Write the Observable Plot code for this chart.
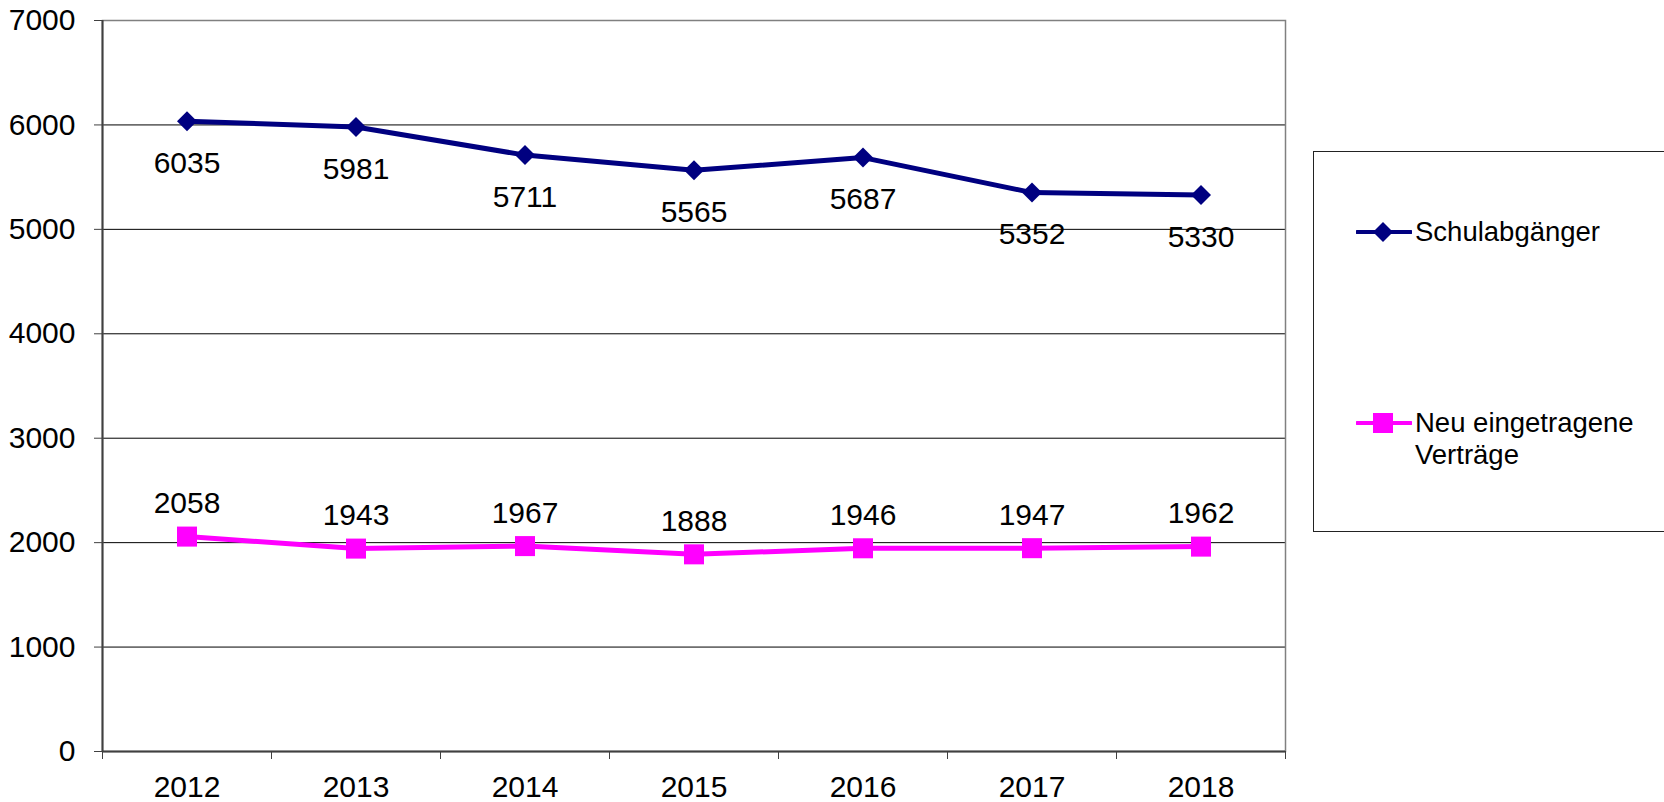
<!DOCTYPE html>
<html><head><meta charset="utf-8">
<script src="https://cdn.jsdelivr.net/npm/d3@7"></script>
<script src="https://cdn.jsdelivr.net/npm/@observablehq/plot@0.6"></script>
<style>
body{margin:0;background:#fff;overflow:hidden;font-family:"Liberation Sans",Arial,sans-serif;}
#wrap{position:relative;width:1664px;height:802px;}
#legend{position:absolute;left:1313px;top:151px;width:380px;height:381px;border:1.5px solid #222;box-sizing:border-box;background:#fff;}
.item{position:absolute;left:42px;display:flex;align-items:flex-start;}
.item span{font-size:27.5px;line-height:32px;color:#000;margin-left:3px;}
.item svg{flex:none;margin-top:4px;}
</style></head>
<body><div id="wrap"><div id="chart"></div><div id="legend"></div></div>
<script>
const years = [2012, 2013, 2014, 2015, 2016, 2017, 2018];
const schulabgaenger = [6035, 5981, 5711, 5565, 5687, 5352, 5330];
const vertraege = [2058, 1943, 1967, 1888, 1946, 1947, 1962];
const seriesNames = ["Schulabgänger", "Neu eingetragene Verträge"];
const seriesColors = ["#000080", "#ff00ff"];
const yTicks = [0, 1000, 2000, 3000, 4000, 5000, 6000, 7000];

const dataS = years.map((yr, i) => ({year: yr, value: schulabgaenger[i], series: seriesNames[0]}));
const dataV = years.map((yr, i) => ({year: yr, value: vertraege[i], series: seriesNames[1]}));
const data = dataS.concat(dataV);
const boundaries = years.map(y => y - 0.5).concat([years[years.length - 1] + 0.5]);
const font = '"Liberation Sans", Arial, sans-serif';

const chart = Plot.plot({
  width: 1664, height: 802,
  marginLeft: 102, marginRight: 379, marginTop: 20, marginBottom: 51,
  style: {fontFamily: font, fontSize: "30px", color: "#000", background: "#fff"},
  x: {type: "linear", domain: [boundaries[0], boundaries[boundaries.length - 1]]},
  y: {domain: [0, 7000]},
  color: {domain: seriesNames, range: seriesColors},
  marks: [
    Plot.gridY(yTicks.filter(t => t > 0 && t < 7000), {stroke: "#000", strokeOpacity: 1, strokeWidth: 1}),
    Plot.frame({stroke: "#808080", strokeWidth: 1.5}),
    Plot.ruleX([boundaries[0]], {stroke: "#404040", strokeWidth: 2}),
    Plot.ruleY([0], {stroke: "#404040", strokeWidth: 2}),
    Plot.axisY(yTicks, {tickSize: 8, tickFormat: () => "", stroke: "#404040", label: null}),
    Plot.axisY(yTicks, {tickSize: 0, tickPadding: 27, fontSize: 30, tickFormat: d => String(d), label: null}),
    Plot.axisX(boundaries, {tickSize: 8, tickFormat: () => "", stroke: "#404040", label: null}),
    Plot.axisX(years, {tickSize: 0, tickPadding: 24, fontSize: 30, tickFormat: d => String(d), label: null}),
    Plot.line(data, {x: "year", y: "value", z: "series", stroke: "series", strokeWidth: 5}),
    Plot.dot(dataS, {x: "year", y: "value", symbol: "diamond2", r: 9, fill: seriesColors[0], stroke: null}),
    Plot.dot(dataV, {x: "year", y: "value", symbol: "square", r: 11.3, fill: seriesColors[1], stroke: null}),
    Plot.text(dataS, {x: "year", y: "value", text: d => String(d.value), dy: 42, fontSize: 30, fill: "#000"}),
    Plot.text(dataV, {x: "year", y: "value", text: d => String(d.value), dy: -33, fontSize: 30, fill: "#000"})
  ]
});
document.getElementById("chart").appendChild(chart);

// Legend
const legend = document.getElementById("legend");
const itemTops = [64, 255];
const symbols = ["diamond", "square"];
seriesNames.forEach((name, i) => {
  const item = document.createElement("div");
  item.className = "item";
  item.style.top = itemTops[i] + "px";
  const marker = symbols[i] === "diamond"
    ? `<path d="M27,2 L37,12 L27,22 L17,12 Z" fill="${seriesColors[i]}"/>`
    : `<rect x="17" y="2" width="20" height="20" fill="${seriesColors[i]}"/>`;
  const label = i === 1 ? "Neu eingetragene<br>Verträge" : name;
  item.innerHTML = `<svg width="56" height="24"><line x1="1" x2="55" y1="12" y2="12" stroke="${seriesColors[i]}" stroke-width="4" stroke-linecap="round"/>${marker}</svg><span>${label}</span>`;
  legend.appendChild(item);
});
</script>
</body></html>
